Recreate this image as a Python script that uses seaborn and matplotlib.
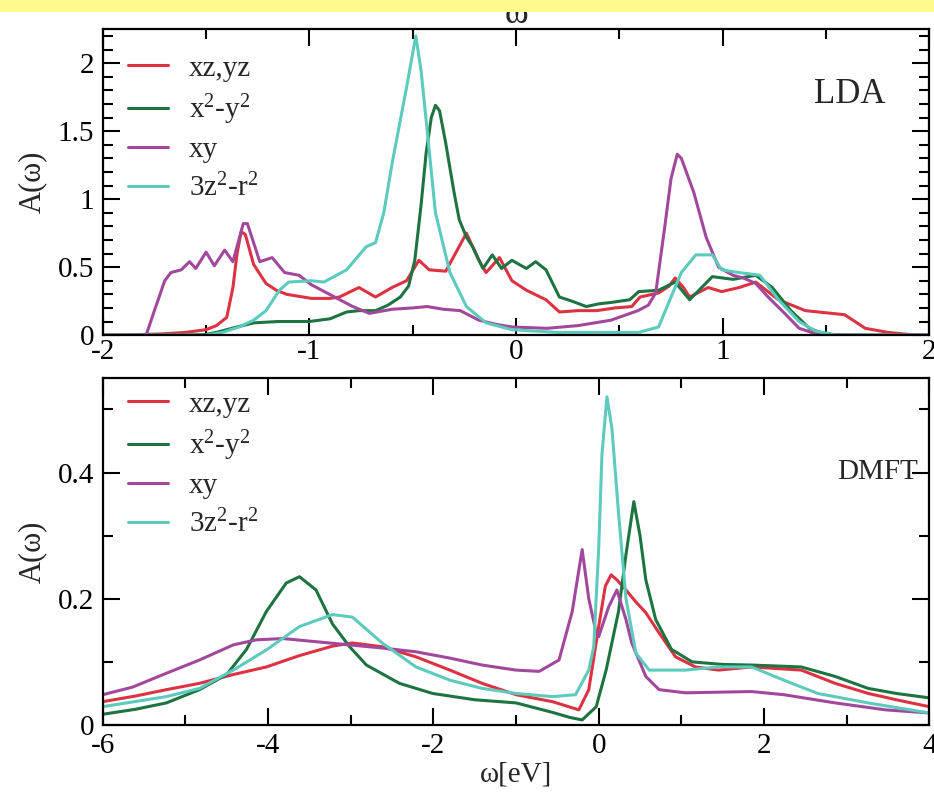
import numpy as np
import pandas as pd
import matplotlib
matplotlib.use("Agg")
import matplotlib.pyplot as plt
import seaborn as sns
from matplotlib.patches import Rectangle
from matplotlib.ticker import MultipleLocator, FuncFormatter

# ---------------- data: LDA panel ----------------
lda_xzyz_x = [-2.0, -1.8, -1.7, -1.6, -1.5, -1.45, -1.40, -1.37, -1.35, -1.33, -1.31, -1.27, -1.21, -1.16,
              -1.11, -0.99, -0.90, -0.855, -0.76, -0.68, -0.60, -0.53, -0.47, -0.42, -0.34, -0.24, -0.18,
              -0.145, -0.08, -0.02, 0.05, 0.145, 0.21, 0.30, 0.39, 0.48, 0.56, 0.60, 0.69, 0.74, 0.77,
              0.81, 0.84, 0.93, 0.995, 1.08, 1.16, 1.27, 1.40, 1.59, 1.69, 1.80, 1.9, 2.0]
lda_xzyz_y = [0.0, 0.005, 0.01, 0.02, 0.04, 0.07, 0.13, 0.35, 0.6, 0.76, 0.74, 0.52, 0.38, 0.33,
              0.30, 0.27, 0.27, 0.28, 0.35, 0.28, 0.35, 0.40, 0.55, 0.48, 0.47, 0.75, 0.55,
              0.46, 0.57, 0.40, 0.33, 0.26, 0.17, 0.18, 0.18, 0.20, 0.21, 0.28, 0.31, 0.36, 0.42,
              0.35, 0.28, 0.35, 0.32, 0.35, 0.39, 0.26, 0.18, 0.15, 0.05, 0.02, 0.005, 0.0]

lda_x2y2_x = [-2.0, -1.6, -1.5, -1.45, -1.35, -1.27, -1.15, -1.0, -0.90, -0.82, -0.76, -0.68, -0.62,
              -0.56, -0.52, -0.49, -0.46, -0.435, -0.41, -0.39, -0.37, -0.34, -0.30, -0.275, -0.24,
              -0.21, -0.16, -0.115, -0.07, -0.02, 0.05, 0.095, 0.145, 0.21, 0.27, 0.34, 0.40, 0.46,
              0.55, 0.594, 0.69, 0.77, 0.84, 0.95, 1.05, 1.16, 1.24, 1.33, 1.42, 1.47, 1.55, 2.0]
lda_x2y2_y = [0.0, 0.0, 0.005, 0.02, 0.06, 0.09, 0.10, 0.10, 0.12, 0.17, 0.18, 0.18, 0.22,
              0.28, 0.36, 0.55, 0.95, 1.34, 1.60, 1.69, 1.65, 1.41, 1.05, 0.85, 0.72,
              0.65, 0.49, 0.59, 0.49, 0.55, 0.49, 0.54, 0.48, 0.28, 0.25, 0.21, 0.23, 0.24,
              0.26, 0.32, 0.33, 0.39, 0.26, 0.43, 0.41, 0.44, 0.35, 0.18, 0.05, 0.02, 0.0, 0.0]

lda_xy_x = [-2.0, -1.85, -1.79, -1.75, -1.70, -1.67, -1.62, -1.58, -1.55, -1.50, -1.46, -1.41, -1.37,
            -1.32, -1.30, -1.24, -1.18, -1.12, -1.05, -0.99, -0.89, -0.79, -0.71, -0.60, -0.50,
            -0.43, -0.35, -0.27, -0.18, -0.10, -0.02, 0.15, 0.30, 0.46, 0.59, 0.64, 0.676, 0.72,
            0.75, 0.78, 0.80, 0.86, 0.92, 0.98, 1.05, 1.10, 1.16, 1.22, 1.30, 1.37, 1.45, 1.6, 2.0]
lda_xy_y = [0.0, 0.0, 0.0, 0.18, 0.40, 0.46, 0.48, 0.54, 0.49, 0.61, 0.51, 0.625, 0.54,
            0.82, 0.82, 0.54, 0.57, 0.46, 0.44, 0.37, 0.29, 0.21, 0.16, 0.19, 0.20,
            0.21, 0.19, 0.18, 0.11, 0.08, 0.06, 0.05, 0.07, 0.11, 0.18, 0.22, 0.31, 0.80,
            1.15, 1.33, 1.30, 1.05, 0.72, 0.50, 0.44, 0.42, 0.38, 0.28, 0.16, 0.05, 0.01, 0.0, 0.0]

lda_3z2_x = [-2.0, -1.5, -1.42, -1.34, -1.27, -1.21, -1.145, -1.10, -0.99, -0.93, -0.82, -0.725,
             -0.68, -0.64, -0.60, -0.53, -0.485, -0.46, -0.435, -0.39, -0.32, -0.24, -0.145, -0.02,
             0.2, 0.594, 0.69, 0.75, 0.80, 0.87, 0.95, 0.995, 1.08, 1.18, 1.27, 1.37, 1.45, 1.55, 2.0]
lda_3z2_y = [0.0, 0.0, 0.02, 0.06, 0.11, 0.18, 0.33, 0.39, 0.40, 0.39, 0.48, 0.65,
             0.68, 0.90, 1.26, 1.82, 2.20, 1.95, 1.58, 0.90, 0.46, 0.21, 0.09, 0.04,
             0.02, 0.02, 0.06, 0.28, 0.46, 0.59, 0.59, 0.48, 0.46, 0.44, 0.26, 0.10, 0.03, 0.0, 0.0]

# ---------------- data: DMFT panel ----------------
dmft_xzyz_x = [-6.0, -5.6, -5.23, -4.83, -4.42, -4.02, -3.62, -3.22, -2.98, -2.62, -2.21, -1.8, -1.41,
               -1.0, -0.56, -0.24, -0.12, 0.0, 0.08, 0.15, 0.22, 0.33, 0.45, 0.57, 0.73, 0.93,
               1.17, 1.45, 1.85, 2.45, 2.86, 3.26, 3.6, 4.0]
dmft_xzyz_y = [0.037, 0.046, 0.056, 0.066, 0.080, 0.092, 0.110, 0.125, 0.130, 0.124, 0.108, 0.087, 0.066,
               0.048, 0.037, 0.024, 0.056, 0.156, 0.22, 0.238, 0.23, 0.214, 0.195, 0.178, 0.146, 0.108,
               0.092, 0.087, 0.092, 0.087, 0.066, 0.050, 0.040, 0.029]

dmft_x2y2_x = [-6.0, -5.6, -5.23, -4.83, -4.5, -4.26, -4.02, -3.78, -3.62, -3.42, -3.22, -3.02,
               -2.81, -2.41, -2.01, -1.5, -1.0, -0.56, -0.35, -0.2, -0.03, 0.09, 0.24, 0.33,
               0.425, 0.50, 0.57, 0.69, 0.88, 1.13, 1.5, 1.85, 2.45, 2.86, 3.26, 3.6, 4.0]
dmft_x2y2_y = [0.017, 0.025, 0.035, 0.056, 0.080, 0.120, 0.180, 0.225, 0.235, 0.214, 0.160, 0.125,
               0.095, 0.066, 0.050, 0.040, 0.035, 0.020, 0.012, 0.008, 0.029, 0.087, 0.180, 0.270,
               0.354, 0.300, 0.230, 0.167, 0.120, 0.100, 0.096, 0.095, 0.092, 0.077, 0.058, 0.050, 0.043]

dmft_xy_x = [-6.0, -5.64, -5.23, -4.83, -4.42, -4.14, -3.82, -3.42, -3.02, -2.62, -2.21, -1.8,
             -1.41, -1.0, -0.72, -0.48, -0.32, -0.2, -0.12, -0.03, 0.0, 0.12, 0.22, 0.33, 0.40,
             0.57, 0.73, 1.05, 1.85, 2.24, 2.86, 3.47, 4.0]
dmft_xy_y = [0.048, 0.060, 0.082, 0.103, 0.127, 0.135, 0.137, 0.132, 0.127, 0.122, 0.116, 0.106,
             0.095, 0.087, 0.085, 0.103, 0.180, 0.278, 0.200, 0.146, 0.140, 0.187, 0.214, 0.167, 0.130,
             0.077, 0.056, 0.051, 0.053, 0.048, 0.035, 0.024, 0.019]

dmft_3z2_x = [-6.0, -5.23, -4.83, -4.42, -4.02, -3.62, -3.22, -2.98, -2.62, -2.21, -1.8, -1.41,
              -1.0, -0.56, -0.28, -0.12, -0.06, 0.0, 0.04, 0.10, 0.16, 0.24, 0.33, 0.45, 0.61,
              1.05, 1.45, 1.85, 2.24, 2.65, 3.26, 4.0]
dmft_3z2_y = [0.029, 0.045, 0.058, 0.087, 0.119, 0.156, 0.175, 0.171, 0.130, 0.092, 0.071, 0.058,
              0.050, 0.045, 0.048, 0.087, 0.124, 0.280, 0.430, 0.520, 0.470, 0.336, 0.200, 0.114, 0.087,
              0.087, 0.092, 0.092, 0.071, 0.050, 0.035, 0.019]

orbitals = ["xz,yz", "x$^2$-y$^2$", "xy", "3z$^2$-r$^2$"]
colors = ["#dc3242", "#1d7441", "#a2489c", "#5ccabd"]

lda_series = [(lda_xzyz_x, lda_xzyz_y), (lda_x2y2_x, lda_x2y2_y),
              (lda_xy_x, lda_xy_y), (lda_3z2_x, lda_3z2_y)]
dmft_series = [(dmft_xzyz_x, dmft_xzyz_y), (dmft_x2y2_x, dmft_x2y2_y),
               (dmft_xy_x, dmft_xy_y), (dmft_3z2_x, dmft_3z2_y)]


def make_df(series):
    frames = []
    for name, (xs, ys) in zip(orbitals, series):
        frames.append(pd.DataFrame({"omega": xs, "A": ys, "orbital": name}))
    return pd.concat(frames, ignore_index=True)


df_lda = make_df(lda_series)
df_dmft = make_df(dmft_series)

sns.set_theme(style="ticks")
plt.rcParams["font.family"] = ["Liberation Serif", "DejaVu Serif"]
plt.rcParams["mathtext.fontset"] = "custom"
plt.rcParams["mathtext.rm"] = "Liberation Serif"
plt.rcParams["mathtext.it"] = "Liberation Serif:italic"
plt.rcParams["axes.edgecolor"] = "black"
plt.rcParams["xtick.color"] = "black"
plt.rcParams["ytick.color"] = "black"

FS = 21
fig = plt.figure(figsize=(9.34, 7.96), dpi=100)
ax1 = fig.add_axes([0.110, 0.579, 0.885, 0.3844])
ax2 = fig.add_axes([0.110, 0.0892, 0.885, 0.436])

palette = dict(zip(orbitals, colors))
for ax, df in ((ax1, df_lda), (ax2, df_dmft)):
    sns.lineplot(data=df, x="omega", y="A", hue="orbital", hue_order=orbitals,
                 palette=palette, linewidth=2.2, ax=ax, estimator=None, sort=False)
    for sp in ax.spines.values():
        sp.set_linewidth(1.6)
        sp.set_color("black")
    ax.tick_params(which="both", direction="in", top=True, right=True, width=1.5,
                   labelsize=FS, colors="black")
    ax.tick_params(which="major", length=12.5)
    ax.tick_params(which="minor", length=7)
    ax.yaxis.set_major_formatter(FuncFormatter(lambda v, p: "%g" % v))
    ax.xaxis.set_major_formatter(FuncFormatter(lambda v, p: "%g" % v))
    ax.set_ylabel("A(ω)", fontsize=22)
    ax.yaxis.set_label_coords(-0.068, 0.5)
    ax.set_xlabel("")

ax1.set_xlim(-2, 2)
ax1.set_ylim(0, 2.25)
ax1.xaxis.set_major_locator(MultipleLocator(1))
ax1.xaxis.set_minor_locator(MultipleLocator(0.5))
ax1.yaxis.set_major_locator(MultipleLocator(0.5))
ax1.yaxis.set_minor_locator(MultipleLocator(0.1))
ax1.tick_params(axis="x", pad=3)
ax1.tick_params(axis="y", pad=6)

ax2.set_xlim(-6, 4)
ax2.set_ylim(0, 0.55)
ax2.xaxis.set_major_locator(MultipleLocator(2))
ax2.xaxis.set_minor_locator(MultipleLocator(1))
ax2.yaxis.set_major_locator(MultipleLocator(0.2))
ax2.yaxis.set_minor_locator(MultipleLocator(0.1))
ax2.tick_params(axis="x", pad=6)
ax2.tick_params(axis="y", pad=6)
ax2.set_xlabel("ω[eV]", fontsize=21)
ax2.xaxis.set_label_coords(0.5, -0.105)

for ax, top in ((ax1, 0.915), (ax2, 0.962)):
    h, l = ax.get_legend_handles_labels()
    ax.legend(h, l, loc="upper left", bbox_to_anchor=(0.030, top), frameon=False,
              fontsize=FS, handlelength=1.4, handletextpad=0.7, labelspacing=0.36,
              borderaxespad=0, borderpad=0)

ax1.text(0.904, 0.785, "LDA", transform=ax1.transAxes, ha="center", va="center", fontsize=25)
ax2.text(0.937, 0.73, "DMFT", transform=ax2.transAxes, ha="center", va="center", fontsize=21)

# cut-off label of panel above and yellow band
fig.text(0.5 * (0.110 + 0.995), 1 - 23 / 796, "ω", ha="center", va="baseline", fontsize=26)
fig.add_artist(Rectangle((0, 1 - 12 / 796), 1, 12 / 796, transform=fig.transFigure,
                         facecolor="#fffa8c", edgecolor="none", zorder=20))

fig.savefig("out.png", dpi=100)
